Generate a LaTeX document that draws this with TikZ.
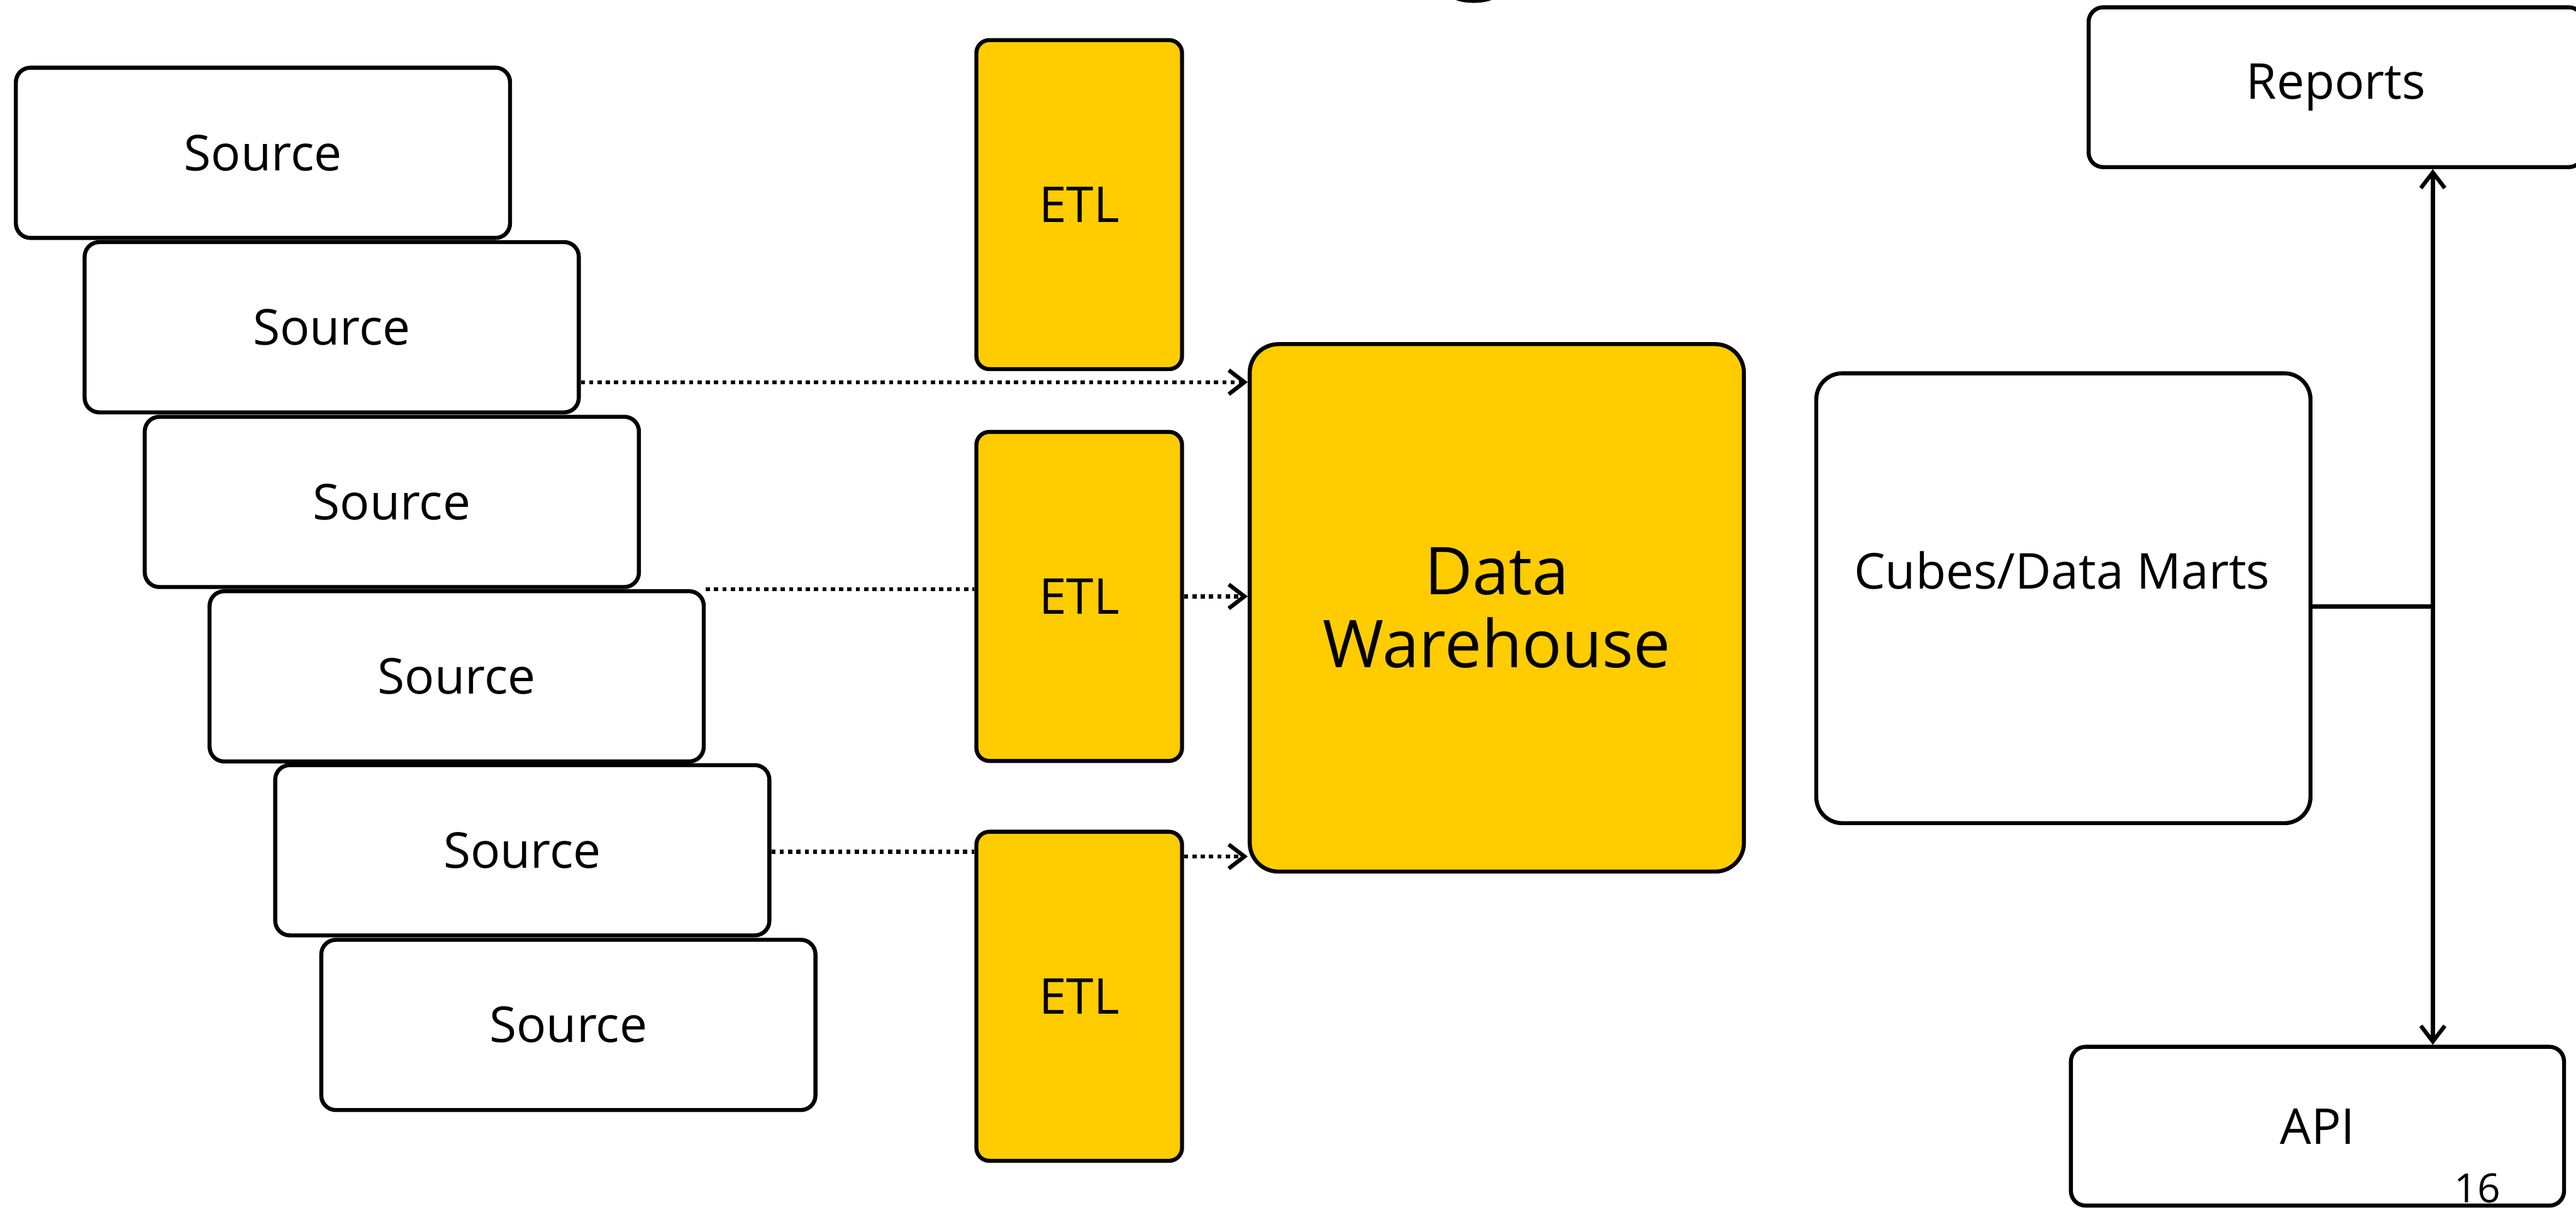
\documentclass[tikz,border=0pt]{standalone}
\usepackage{fontspec}
\setmainfont{Open Sans}
\usetikzlibrary{arrows.meta,calc}
\definecolor{ya}{HTML}{FFCC00}
\tikzset{
  box/.style={draw=black, line width=2.2pt, fill=white, rounded corners=0.28cm,
              inner sep=0pt, font=\fontsize{27}{32}\selectfont},
  srcbox/.style={box, minimum width=9.49cm, minimum height=3.27cm},
  etlbox/.style={box, fill=ya, rounded corners=0.25cm, minimum width=3.95cm, minimum height=6.32cm},
  tipx/.tip={Straight Barb[length=0.3cm,width=0.46cm,line width=2.2pt]},
  dotline/.style={line width=2.2pt, dash pattern=on 0.08cm off 0.08cm, -tipx},
  dotplain/.style={line width=2.2pt, dash pattern=on 0.08cm off 0.08cm},
  solid line/.style={line width=2.2pt}
}
\begin{document}
\begin{tikzpicture}
\useasboundingbox (0,0) rectangle (49.47,-23.19);
\fill[white] (0,0) rectangle (49.47,-23.19);
% sliver of cut-off title glyph
\fill (28.30,0.10) ellipse [x radius=0.45, y radius=0.155];

% sources
\node[srcbox] (s1) at (5.05,-2.935) {Source};
\node[srcbox] (s2) at (6.37,-6.285) {Source};
\node[srcbox] (s3) at (7.525,-9.64) {Source};
\node[srcbox] (s4) at (8.77,-12.99) {Source};
\node[srcbox] (s5) at (10.03,-16.33) {Source};
\node[srcbox] (s6) at (10.915,-19.685) {Source};

% ETL
\node[etlbox] (e1) at (20.725,-3.93) {ETL};
\node[etlbox] (e2) at (20.725,-11.455) {ETL};
\node[etlbox] (e3) at (20.725,-19.135) {ETL};

% warehouse
\node[box, fill=ya, rounded corners=0.55cm, minimum width=9.49cm, minimum height=10.13cm,
      align=center, font=\fontsize{36}{40}\selectfont] (dw) at (28.745,-11.675) {Data\\Warehouse};

% cubes
\node[box, rounded corners=0.5cm, minimum width=9.49cm, minimum height=8.64cm] (cubes) at (39.625,-11.49) {};
\node[font=\fontsize{27}{32}\selectfont, inner sep=0pt] (cubest) at (39.6,-10.95) {Cubes/Data Marts};

% outputs
\node[box, minimum width=9.5cm, minimum height=3.07cm] (rep) at (44.86,-1.675) {Reports};
\node[box, minimum width=9.47cm, minimum height=3.05cm] (api) at (44.505,-21.63) {API};

% page number
\node[anchor=base, inner sep=0pt, font=\fontsize{22}{26}\selectfont] (pg) at (47.58,-23.10) {16};

% connectors
\coordinate (y1) at (0,-7.34);
\coordinate (y3) at (0,-16.36);
\coordinate (y4) at (0,-16.45);
\coordinate (bus) at (46.72,-11.65);

\draw[dotline] (s2.east |- y1) -- (dw.west |- y1);
\draw[dotplain] (s4.north east) -- (s4.north east -| e2.west);
\draw[dotline] (e2.east) -- (e2.east -| dw.west);
\draw[dotplain] (s5.east |- y3) -- (e3.west |- y3);
\draw[dotline] (e3.east |- y4) -- (dw.west |- y4);

\draw[solid line] (cubes.east |- bus) -- (bus);
\draw[solid line, tipx-tipx] (rep.south -| bus) -- (api.north -| bus);
\end{tikzpicture}
\end{document}
